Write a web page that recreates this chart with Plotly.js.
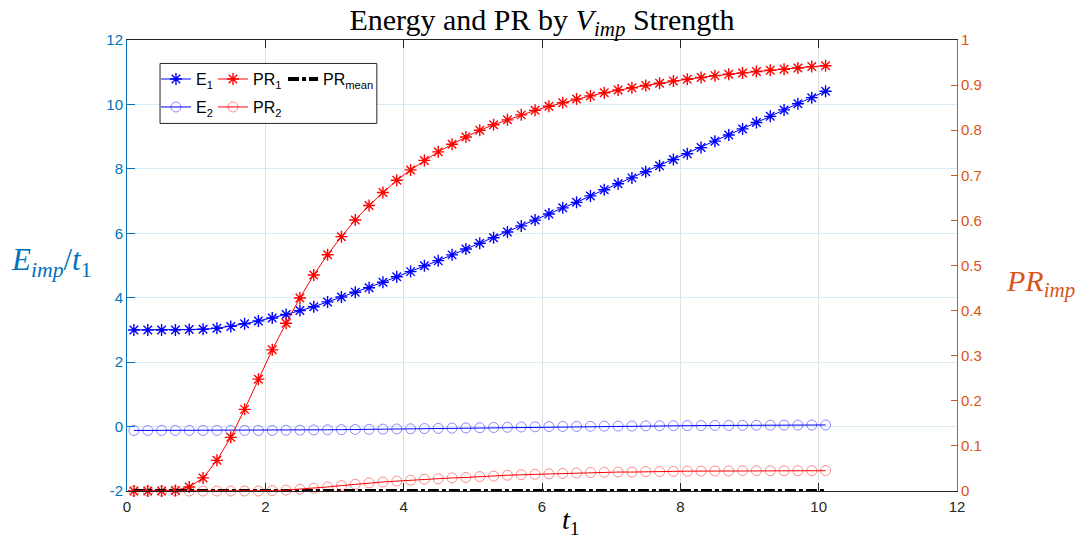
<!DOCTYPE html>
<html>
<head>
<meta charset="utf-8">
<script src="https://cdn.plot.ly/plotly-3.0.1.min.js"></script>
<style>html,body{margin:0;padding:0;background:#fff;}#chart{width:1089px;height:544px;}</style>
</head>
<body>
<div id="chart"></div>
<script>
// ---- data ----
var t1 = [0.1,0.3,0.5,0.7,0.9,1.1,1.3,1.5,1.7,1.9,
          2.1,2.3,2.5,2.7,2.9,3.1,3.3,3.5,3.7,3.9,
          4.1,4.3,4.5,4.7,4.9,5.1,5.3,5.5,5.7,5.9,
          6.1,6.3,6.5,6.7,6.9,7.1,7.3,7.5,7.7,7.9,
          8.1,8.3,8.5,8.7,8.9,9.1,9.3,9.5,9.7,9.9,10.1];

var E1 = [3.00,3.00,3.00,3.00,3.01,3.02,3.05,3.11,3.19,3.28,
          3.37,3.48,3.60,3.72,3.87,4.02,4.17,4.31,4.48,4.65,
          4.81,4.99,5.15,5.33,5.51,5.69,5.86,6.04,6.23,6.41,
          6.60,6.79,6.96,7.16,7.35,7.54,7.72,7.91,8.10,8.29,
          8.47,8.66,8.86,9.05,9.24,9.44,9.63,9.83,10.02,10.21,10.41];

var E2 = [-0.12,-0.12,-0.12,-0.12,-0.12,-0.12,-0.12,-0.12,-0.12,-0.12,
          -0.12,-0.115,-0.11,-0.105,-0.10,-0.095,-0.09,-0.085,-0.08,-0.075,
          -0.07,-0.063,-0.056,-0.049,-0.042,-0.035,-0.028,-0.021,-0.014,-0.007,
          0.0,0.003,0.006,0.009,0.012,0.015,0.018,0.021,0.024,0.027,
          0.030,0.032,0.034,0.036,0.038,0.040,0.042,0.044,0.046,0.048,0.050];

var PR1 = [0.000,0.000,0.000,0.001,0.009,0.029,0.068,0.119,0.181,0.248,
           0.313,0.372,0.428,0.479,0.524,0.564,0.601,0.633,0.662,0.689,
           0.712,0.733,0.752,0.769,0.785,0.800,0.812,0.823,0.834,0.844,
           0.853,0.861,0.869,0.876,0.883,0.889,0.894,0.899,0.904,0.909,
           0.913,0.917,0.921,0.924,0.927,0.930,0.933,0.935,0.938,0.941,0.943];

var PR2 = [0.000,0.000,0.000,0.000,0.000,0.000,0.000,0.000,0.000,0.000,
           0.001,0.002,0.004,0.006,0.009,0.012,0.015,0.018,0.020,0.022,
           0.024,0.026,0.027,0.029,0.030,0.032,0.033,0.035,0.036,0.037,
           0.038,0.039,0.040,0.041,0.0415,0.042,0.042,0.043,0.043,0.0435,
           0.044,0.044,0.0445,0.0445,0.045,0.045,0.045,0.045,0.045,0.045,0.045];

var PRmean = [0,0,0,0,0,0,0,0,0,0,
              0,0,0,0,0,0,0,0,0,0,
              0,0,0,0,0,0,0,0,0,0,
              0,0,0,0,0,0,0,0,0,0,
              0,0,0,0,0,0,0,0,0,0,0];

var xTickVals = [0,2,4,6,8,10,12];
var xTickText = ['0','2','4','6','8','10','12'];
var yLeftTickVals = [-2,0,2,4,6,8,10,12];
var yLeftTickText = ['-2','0','2','4','6','8','10','12'];
var yRightTickVals = [0,0.1,0.2,0.3,0.4,0.5,0.6,0.7,0.8,0.9,1];
var yRightTickText = ['0','0.1','0.2','0.3','0.4','0.5','0.6','0.7','0.8','0.9','1'];

// ---- styles ----
var BLUE = '#0000ff', RED = '#ff0000';
var LEFTC = '#0072BD', RIGHTC = '#D95319', AXC = '#262626';
var SANS = 'Liberation Sans, Arial, sans-serif';
var SERIF = 'Liberation Serif, Times New Roman, serif';

var traces = [
  {x: t1, y: E1, name: 'E<sub>1</sub>', type: 'scatter', mode: 'lines+markers', yaxis: 'y', legend: 'legend',
   line: {color: BLUE, width: 1}, cliponaxis: false,
   marker: {symbol: 'asterisk-open', size: 10, color: BLUE, line: {color: BLUE, width: 1.4}}},
  {x: t1, y: PR1, name: 'PR<sub>1</sub>', type: 'scatter', mode: 'lines+markers', yaxis: 'y2', legend: 'legend2',
   line: {color: RED, width: 1}, cliponaxis: false,
   marker: {symbol: 'asterisk-open', size: 10, color: RED, line: {color: RED, width: 1.4}}},
  {x: t1, y: PRmean, name: 'PR<sub>mean</sub>', type: 'scatter', mode: 'lines', yaxis: 'y2', legend: 'legend3',
   line: {color: '#000000', width: 4, dash: '11px,3px,4px,3px'}, cliponaxis: false},
  {x: t1, y: E2, name: 'E<sub>2</sub>', type: 'scatter', mode: 'lines+markers', yaxis: 'y', legend: 'legend4',
   line: {color: BLUE, width: 1}, cliponaxis: false,
   marker: {symbol: 'circle-open', size: 10, color: 'rgba(0,0,255,0.45)', line: {color: 'rgba(0,0,255,0.45)', width: 1}}},
  {x: t1, y: PR2, name: 'PR<sub>2</sub>', type: 'scatter', mode: 'lines+markers', yaxis: 'y2', legend: 'legend5',
   line: {color: RED, width: 1}, cliponaxis: false,
   marker: {symbol: 'circle-open', size: 10, color: 'rgba(255,0,0,0.45)', line: {color: 'rgba(255,0,0,0.45)', width: 1}}}
];

function leg(x, y) {
  return {
    orientation: 'h', xanchor: 'left', yanchor: 'top', x: x, y: y,
    bgcolor: 'rgba(0,0,0,0)', borderwidth: 0,
    font: {family: SANS, size: 16, color: '#000'},
    itemwidth: 30
  };
}

var layout = {
  width: 1089, height: 544,
  margin: {l: 127, r: 132, t: 40, b: 53, pad: 0},
  paper_bgcolor: '#fff', plot_bgcolor: '#fff',
  showlegend: true,
  title: {
    text: 'Energy and PR by <i>V</i><sub><i>imp</i></sub> Strength',
    font: {family: SERIF, size: 30, color: '#000'},
    x: 0.5, xanchor: 'center', xref: 'paper',
    y: 0.965, yanchor: 'middle', yref: 'container'
  },
  xaxis: {
    range: [0, 12], tickmode: 'array', tickvals: xTickVals, ticktext: xTickText,
    ticks: 'inside', ticklen: 8, tickcolor: AXC, tickwidth: 1,
    showline: true, linecolor: AXC, linewidth: 1, mirror: 'ticks',
    showgrid: true, gridcolor: '#dfdfdf', gridwidth: 1, zeroline: false,
    ticklabelstandoff: 2,
    tickfont: {family: SANS, size: 15, color: AXC}
  },
  yaxis: {
    range: [-2, 12], tickmode: 'array', tickvals: yLeftTickVals, ticktext: yLeftTickText,
    ticks: 'inside', ticklen: 8, tickcolor: LEFTC, tickwidth: 1,
    showline: true, linecolor: LEFTC, linewidth: 1,
    showgrid: true, gridcolor: '#d9eaf7', gridwidth: 1, zeroline: false,
    tickfont: {family: SANS, size: 15, color: LEFTC}
  },
  yaxis2: {
    range: [0, 1], overlaying: 'y', side: 'right', tickmode: 'array',
    tickvals: yRightTickVals, ticktext: yRightTickText,
    ticks: 'inside', ticklen: 6, tickcolor: RIGHTC, tickwidth: 1,
    showline: true, linecolor: RIGHTC, linewidth: 1,
    showgrid: false, zeroline: false,
    tickfont: {family: SANS, size: 15, color: RIGHTC}
  },
  legend:  leg(0.0349, 0.951),
  legend2: leg(0.1036, 0.951),
  legend3: leg(0.1880, 0.951),
  legend4: leg(0.0349, 0.889),
  legend5: leg(0.1036, 0.889),
  shapes: [{
    type: 'rect', xref: 'paper', yref: 'paper', layer: 'above',
    x0: 0.0398, x1: 0.301, y0: 0.815, y1: 0.948,
    line: {color: AXC, width: 1}, fillcolor: '#ffffff'
  }],
  annotations: [
    {text: '<i>E</i><sub><i>imp</i></sub>/<i>t</i><sub>1</sub>', xref: 'paper', yref: 'paper',
     x: -0.0904, y: 0.508, xanchor: 'center', yanchor: 'middle', showarrow: false,
     font: {family: SERIF, size: 31, color: LEFTC}},
    {text: '<i>PR</i><sub><i>imp</i></sub>', xref: 'paper', yref: 'paper',
     x: 1.101, y: 0.461, xanchor: 'center', yanchor: 'middle', showarrow: false,
     font: {family: SERIF, size: 30, color: RIGHTC}},
    {text: '<i>t</i><sub>1</sub>', xref: 'paper', yref: 'paper',
     x: 0.535, y: -0.0687, xanchor: 'center', yanchor: 'middle', showarrow: false,
     font: {family: SERIF, size: 28, color: '#000'}}
  ]
};

Plotly.newPlot('chart', traces, layout, {displayModeBar: false, responsive: false});
</script>
</body>
</html>
